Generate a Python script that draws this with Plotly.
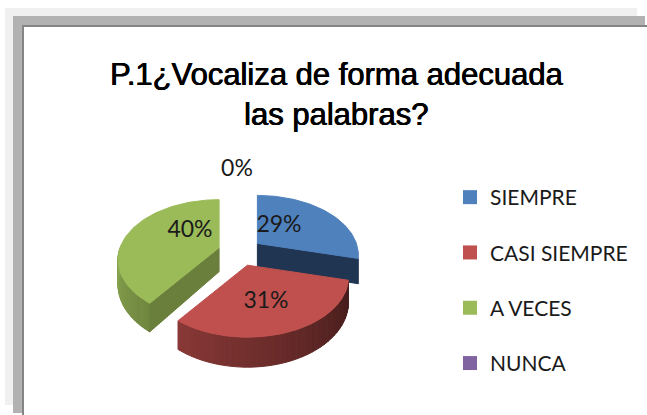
import numpy as np
import plotly.graph_objects as go

categories = ["SIEMPRE", "CASI SIEMPRE", "A VECES", "NUNCA"]
values = [29, 31, 40, 0]
colors = ["#4F81BD", "#C0504D", "#9BBB59", "#8064A2"]
dark_faces = ["#1F3552", "#4F1F1D", "#6B7F3C", "#4A3A60"]
title_lines = ["P.1¿Vocaliza de forma adecuada", "las palabras?"]

CX, CY, R, T, K, DEPTH = 240.0, 252.0, 99.0, 57.6, 0.2, 24.0
EX, EY = 22.0, 14.0
TEXT_FONT = "Lato"


def project(x, y, z=0.0):
    x = np.asarray(x, float)
    y = np.asarray(y, float)
    p = 1.0 / (1.0 - K * y)
    return x * R * p, y * T * p + z * DEPTH * p


def mix(hex_a, f):
    r, g, b = int(hex_a[1:3], 16), int(hex_a[3:5], 16), int(hex_a[5:7], 16)
    return f"rgb({int(r*f)},{int(g*f)},{int(b*f)})"


fig = go.Figure()
total = sum(values)
starts = np.cumsum([0] + values[:-1]) / total * 2 * np.pi
sweeps = np.array(values) / total * 2 * np.pi


def poly(xs, ys, color, ox, oy):
    fig.add_trace(go.Scatter(x=np.asarray(xs) + ox, y=np.asarray(ys) + oy, mode="lines", fill="toself",
                             fillcolor=color, line=dict(color=color, width=1),
                             hoverinfo="skip", showlegend=False))


for i in [2, 0, 1]:
    a0, sw = starts[i], sweeps[i]
    a1 = a0 + sw
    mid = a0 + sw / 2
    ox, oy = CX + EX * np.sin(mid), CY - EY * np.cos(mid)
    ang = np.linspace(a0, a1, 80)
    ux, uy = np.sin(ang), -np.cos(ang)

    # outer wall: narrow bands, shaded left to right
    front = np.linspace(max(a0, np.pi / 2), min(a1, 3 * np.pi / 2), 40)
    if i != 0 and front[-1] > front[0]:
        for b0, b1 in zip(front[:-1], front[1:]):
            bb = np.linspace(b0, b1, 3)
            bx, by = np.sin(bb), -np.cos(bb)
            tx, ty = project(bx, by, 0)
            lx, ly = project(bx, by, 1)
            shade = 0.3 + 0.6 * np.clip((b0 - np.pi / 2) / np.pi, 0, 1)
            poly(np.r_[tx, lx[::-1], tx[0]], np.r_[ty, ly[::-1], ty[0]], mix(colors[i], shade), ox, oy)

    # cut face, visible only where it turns towards the viewer
    if i in (0, 2):
        fa = a1 if i == 0 else a0
        ex, ey = np.sin(fa), -np.cos(fa)
        ax1, ay1 = project([0, ex], [0, ey], 0)
        bx1, by1 = project([ex, 0], [ey, 0], 1)
        poly(np.r_[ax1, bx1, ax1[0]], np.r_[ay1, by1, ay1[0]], dark_faces[i], ox, oy)

    # top surface
    tx, ty = project(ux, uy, 0)
    poly(np.r_[0, tx, 0], np.r_[0, ty, 0], colors[i], ox, oy)

# legend entries
for c, col in zip(categories, colors):
    fig.add_trace(go.Scatter(x=[None], y=[None], mode="markers", name=c, legendgroup=c,
                             marker=dict(symbol="square", size=14, color=col)))

# percentage labels
label_x = [279, 266, 190, 237]
label_y = [226, 302, 231, 170]
fig.add_trace(go.Scatter(x=label_x, y=label_y, mode="text", showlegend=False, hoverinfo="skip",
                         text=[f"{v}%" for v in values],
                         textfont=dict(family=TEXT_FONT, size=23, color="#1a1a1a")))

# frame
shapes = [
    dict(type="rect", x0=5, y0=8, x1=637, y1=16, fillcolor="#F0F0F0", line_width=0, layer="below"),
    dict(type="rect", x0=5, y0=8, x1=13, y1=405, fillcolor="#F0F0F0", line_width=0, layer="below"),
    dict(type="rect", x0=13, y0=16, x1=645, y1=25, fillcolor="#B2B2B2", line_width=0, layer="below"),
    dict(type="rect", x0=13, y0=16, x1=22, y1=413, fillcolor="#B2B2B2", line_width=0, layer="below"),
    dict(type="rect", x0=22, y0=25, x1=647, y1=27, fillcolor="#858585", line_width=0, layer="below"),
    dict(type="rect", x0=22, y0=25, x1=24, y1=415, fillcolor="#858585", line_width=0, layer="below"),
]

fig.update_layout(
    width=647, height=415, margin=dict(l=0, r=0, t=0, b=0),
    paper_bgcolor="white", plot_bgcolor="rgba(0,0,0,0)", shapes=shapes,
    xaxis=dict(range=[0, 647], visible=False, fixedrange=True),
    yaxis=dict(range=[415, 0], visible=False, fixedrange=True),
    legend=dict(x=450 / 647, y=1 - 177 / 415, xanchor="left", yanchor="top", tracegroupgap=25,
                bgcolor="rgba(0,0,0,0)", font=dict(family=TEXT_FONT, size=21, color="#1a1a1a")),
    annotations=[
        dict(x=336, y=74, xref="x", yref="y", text=title_lines[0], showarrow=False,
             font=dict(family="Liberation Sans", size=31, color="black",
                       shadow="0.5px 0 0 #000, -0.3px 0 0 #000")),
        dict(x=336, y=114, xref="x", yref="y", text=title_lines[1], showarrow=False,
             font=dict(family="Liberation Sans", size=31, color="black",
                       shadow="0.5px 0 0 #000, -0.3px 0 0 #000")),
    ],
)
fig.write_html("out.html", config=dict(displayModeBar=False),
               post_script="document.body.style.margin='0';document.body.style.overflow='hidden';")
